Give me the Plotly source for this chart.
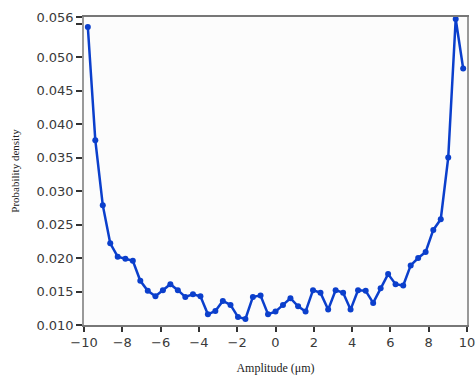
import plotly.graph_objects as go

# Bin centres of the amplitude histogram (µm)
amplitude = [-9.80, -9.41, -9.02, -8.63, -8.24, -7.84, -7.45, -7.06, -6.67, -6.27,
             -5.88, -5.49, -5.10, -4.71, -4.31, -3.92, -3.53, -3.14, -2.75, -2.35,
             -1.96, -1.57, -1.18, -0.78, -0.39, 0.00, 0.39, 0.78, 1.18, 1.57,
             1.96, 2.35, 2.75, 3.14, 3.53, 3.92, 4.31, 4.71, 5.10, 5.49,
             5.88, 6.27, 6.67, 7.06, 7.45, 7.84, 8.24, 8.63, 9.02, 9.41, 9.80]

# Probability density per bin
density = [0.0545, 0.0376, 0.0279, 0.0222, 0.0202, 0.0199, 0.0196, 0.0166, 0.0151, 0.0143,
           0.0152, 0.0161, 0.0152, 0.0142, 0.0146, 0.0143, 0.0116, 0.0121, 0.0136, 0.0130,
           0.0112, 0.0109, 0.0142, 0.0144, 0.0116, 0.0120, 0.0130, 0.0140, 0.0128, 0.0120,
           0.0152, 0.0148, 0.0123, 0.0152, 0.0148, 0.0123, 0.0152, 0.0151, 0.0133, 0.0155,
           0.0176, 0.0161, 0.0159, 0.0189, 0.0200, 0.0209, 0.0242, 0.0258, 0.0350, 0.0557,
           0.0483]

x_ticks = [-10, -8, -6, -4, -2, 0, 2, 4, 6, 8, 10]
y_ticks = [0.010, 0.015, 0.020, 0.025, 0.030, 0.035, 0.040, 0.045, 0.050, 0.055, 0.056]
y_tick_text = ["0.010", "0.015", "0.020", "0.025", "0.030", "0.035", "0.040",
               "0.045", "0.050", "", "0.056"]

tick_font = dict(family="DejaVu Sans", size=13, color="#3a3a3a")
title_font = dict(family="Liberation Serif", size=12, color="#222222")

fig = go.Figure()
fig.add_trace(go.Scatter(
    x=amplitude, y=density,
    mode="lines+markers",
    line=dict(color="#0b3fcc", width=2.5),
    marker=dict(color="#0b3fcc", size=6),
    cliponaxis=False,
    showlegend=False,
))

fig.update_layout(
    width=476, height=375,
    margin=dict(l=84, r=9, t=17, b=50),
    paper_bgcolor="white",
    plot_bgcolor="#fcfcfc",
    xaxis=dict(
        range=[-10, 10], tickvals=x_ticks, ticks="outside", ticklen=5,
        tickwidth=1.5, tickcolor="#333333", showgrid=False, zeroline=False,
        showline=True, linecolor="#777777", linewidth=1.5, mirror=True,
        tickfont=tick_font, automargin=False,
        title=dict(text="Amplitude (μm)", font=title_font, standoff=14),
    ),
    yaxis=dict(
        range=[0.010, 0.056], tickvals=y_ticks, ticktext=y_tick_text,
        ticks="outside", ticklen=6, tickwidth=1.5, tickcolor="#333333",
        showgrid=False, zeroline=False,
        showline=True, linecolor="#999999", linewidth=1.5, mirror=True,
        tickfont=tick_font, automargin=False,
        title=dict(text="Probability density",
                   font=dict(family="Liberation Serif", size=11, color="#222222"),
                   standoff=15),
    ),
)

fig.write_html("out.html")
